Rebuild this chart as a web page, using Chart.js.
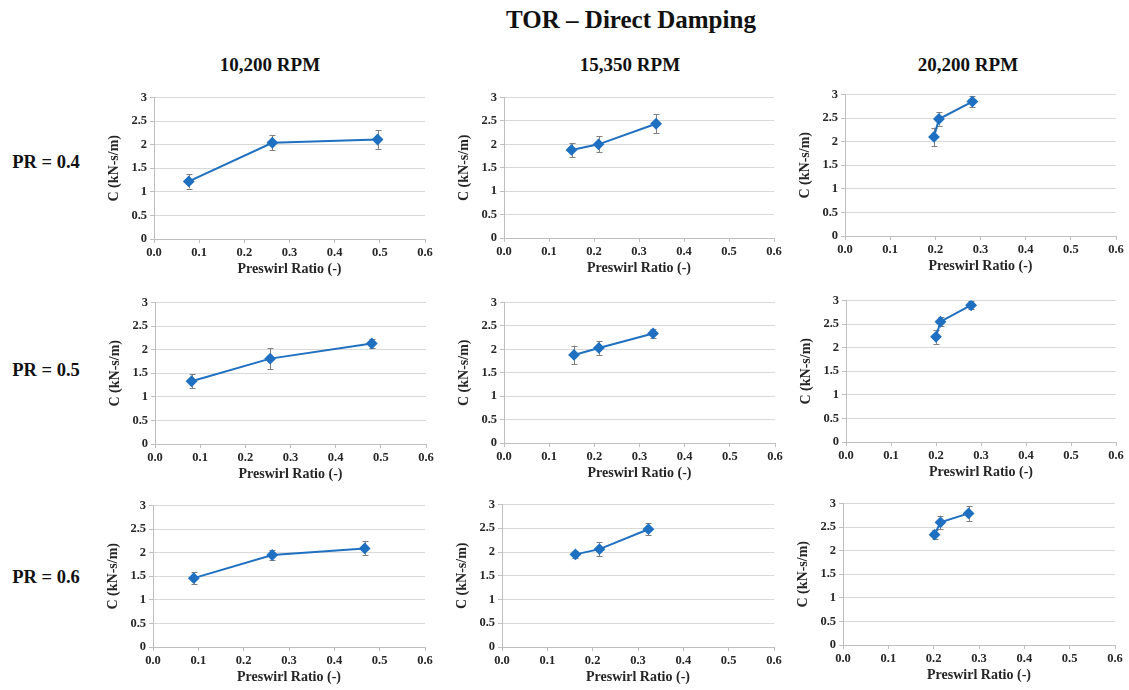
<!DOCTYPE html>
<html>
<head>
<meta charset="utf-8">
<script src="https://cdn.jsdelivr.net/npm/chart.js@4"></script>
<style>
  body { margin: 0; background: #fff; width: 1129px; height: 690px; position: relative; overflow: hidden; font-family: "Liberation Serif", "Times New Roman", serif; color: #111; }
  .lbl { position: absolute; font-weight: bold; white-space: nowrap; }
  .box { position: absolute; }
</style>
</head>
<body>
<script>
// Header texts
const mainTitle = 'TOR – Direct Damping';
const rpmLabels = ['10,200 RPM', '15,350 RPM', '20,200 RPM'];
const prLabels = ['PR = 0.4', 'PR = 0.5', 'PR = 0.6'];

// Axis ticks
const xTicks = [0.0, 0.1, 0.2, 0.3, 0.4, 0.5, 0.6];
const yTicks = [0, 0.5, 1, 1.5, 2, 2.5, 3];

// Preswirl ratio (x), damping C (y) and error half-width, one row per RPM column
const preswirlPR04 = [[0.077, 0.262, 0.495], [0.150, 0.210, 0.338], [0.197, 0.208, 0.282]];
const dampingPR04  = [[1.22, 2.04, 2.11], [1.88, 2.00, 2.44], [2.10, 2.48, 2.85]];
const errorPR04    = [[0.15, 0.16, 0.20], [0.15, 0.17, 0.20], [0.20, 0.14, 0.12]];

const preswirlPR05 = [[0.081, 0.255, 0.480], [0.155, 0.210, 0.330], [0.200, 0.210, 0.278]];
const dampingPR05  = [[1.33, 1.81, 2.13], [1.88, 2.03, 2.34], [2.23, 2.55, 2.90]];
const errorPR05    = [[0.15, 0.22, 0.10], [0.20, 0.15, 0.10], [0.15, 0.10, 0.08]];

const preswirlPR06 = [[0.090, 0.263, 0.467], [0.162, 0.215, 0.323], [0.202, 0.215, 0.277]];
const dampingPR06  = [[1.46, 1.95, 2.09], [1.95, 2.06, 2.48], [2.34, 2.60, 2.79]];
const errorPR06    = [[0.12, 0.10, 0.15], [0.08, 0.15, 0.12], [0.09, 0.14, 0.16]];

const rows = [
  { x: preswirlPR04, y: dampingPR04, e: errorPR04 },
  { x: preswirlPR05, y: dampingPR05, e: errorPR05 },
  { x: preswirlPR06, y: dampingPR06, e: errorPR06 }
];

// plot area boxes [left, top, right, bottom] per row / column
const plotBoxes = [
  [[154, 95, 425, 239], [504, 95, 774, 238], [845, 92, 1116, 236]],
  [[155, 300, 426, 444], [504, 300, 775, 443], [846, 298, 1116, 442]],
  [[153, 503, 425, 647], [502, 502, 774, 647], [843, 501, 1115, 645]]
];

const Y_AXIS_W = 52;
const X_AXIS_H = 42;
const PAD_TOP = 8;
const PAD_RIGHT = 12;

function addLabel(text, cx, cy, size) {
  const d = document.createElement('div');
  d.className = 'lbl';
  d.textContent = text;
  d.style.fontSize = size + 'px';
  d.style.lineHeight = size + 'px';
  d.style.left = cx + 'px';
  d.style.top = cy + 'px';
  d.style.transform = 'translate(-50%, -50%)';
  document.body.appendChild(d);
}

addLabel(mainTitle, 631, 19, 25);
[270, 630, 968].forEach((cx, i) => addLabel(rpmLabels[i], cx, 64, 19));
[162, 370, 577].forEach((cy, i) => addLabel(prLabels[i], 46, cy, 18.5));

// vertical error bars, drawn under the markers
const errorBars = {
  id: 'errorBars',
  beforeDatasetsDraw(chart) {
    const ctx = chart.ctx;
    const xs = chart.scales.x, ys = chart.scales.y;
    const errs = chart.options.plugins.errorBars.values;
    ctx.save();
    ctx.strokeStyle = '#7f7f7f';
    ctx.lineWidth = 1;
    chart.data.datasets[0].data.forEach((p, i) => {
      const px = Math.round(xs.getPixelForValue(p.x)) + 0.5;
      const yTop = ys.getPixelForValue(p.y + errs[i]);
      const yBot = ys.getPixelForValue(p.y - errs[i]);
      ctx.beginPath();
      ctx.moveTo(px, yTop); ctx.lineTo(px, yBot);
      ctx.moveTo(px - 3, Math.round(yTop) + 0.5); ctx.lineTo(px + 3, Math.round(yTop) + 0.5);
      ctx.moveTo(px - 3, Math.round(yBot) + 0.5); ctx.lineTo(px + 3, Math.round(yBot) + 0.5);
      ctx.stroke();
    });
    ctx.restore();
  }
};

const tickFont = { family: '"Liberation Serif", serif', size: 12.5, weight: 'bold' };
const titleFont = { family: '"Liberation Serif", serif', size: 14, weight: 'bold' };

function makeChart(r, c) {
  const [l, t, rt, b] = plotBoxes[r][c];
  const left = l - Y_AXIS_W;
  const top = t - PAD_TOP;
  const w = rt + PAD_RIGHT - left;
  const h = b + X_AXIS_H - top;

  const box = document.createElement('div');
  box.className = 'box';
  box.style.left = left + 'px';
  box.style.top = top + 'px';
  box.style.width = w + 'px';
  box.style.height = h + 'px';
  const canvas = document.createElement('canvas');
  canvas.width = w;
  canvas.height = h;
  box.appendChild(canvas);
  document.body.appendChild(box);

  const xs = rows[r].x[c], ys = rows[r].y[c];
  const points = xs.map((v, i) => ({ x: v, y: ys[i] }));

  new Chart(canvas, {
    type: 'line',
    data: {
      datasets: [{
        data: points,
        borderColor: '#1f70c1',
        backgroundColor: '#1f70c1',
        borderWidth: 2,
        pointStyle: 'rectRot',
        pointRadius: 4.5,
        pointHoverRadius: 4.5,
        tension: 0,
        fill: false
      }]
    },
    options: {
      responsive: false,
      animation: false,
      events: [],
      layout: { padding: { top: PAD_TOP, right: PAD_RIGHT, left: 0, bottom: 0 } },
      plugins: {
        legend: { display: false },
        tooltip: { enabled: false },
        errorBars: { values: rows[r].e[c] }
      },
      scales: {
        x: {
          type: 'linear',
          min: 0, max: 0.6,
          afterBuildTicks: s => { s.ticks = xTicks.map(v => ({ value: v })); },
          afterFit: s => { s.height = X_AXIS_H; },
          ticks: { font: tickFont, color: '#262626', padding: 2, maxRotation: 0, autoSkip: false,
                   callback: v => Number(v).toFixed(1) },
          grid: { drawOnChartArea: false, drawTicks: true, tickLength: 4, color: '#bfbfbf' },
          border: { color: '#bfbfbf', width: 1 },
          title: { display: true, text: 'Preswirl Ratio (-)', font: titleFont, color: '#262626', padding: { top: 2, bottom: 3 } }
        },
        y: {
          type: 'linear',
          min: 0, max: 3,
          afterBuildTicks: s => { s.ticks = yTicks.map(v => ({ value: v })); },
          afterFit: s => { s.width = Y_AXIS_W; },
          ticks: { font: tickFont, color: '#262626', padding: 3, autoSkip: false,
                   callback: v => String(v) },
          grid: { color: '#d9d9d9', tickLength: 4, tickColor: '#bfbfbf' },
          border: { color: '#bfbfbf', width: 1 },
          title: { display: true, text: 'C (kN-s/m)', font: titleFont, color: '#262626', padding: { top: 4, bottom: 4 } }
        }
      }
    },
    plugins: [errorBars]
  });
}

for (let r = 0; r < 3; r++) {
  for (let c = 0; c < 3; c++) makeChart(r, c);
}
</script>
</body>
</html>
